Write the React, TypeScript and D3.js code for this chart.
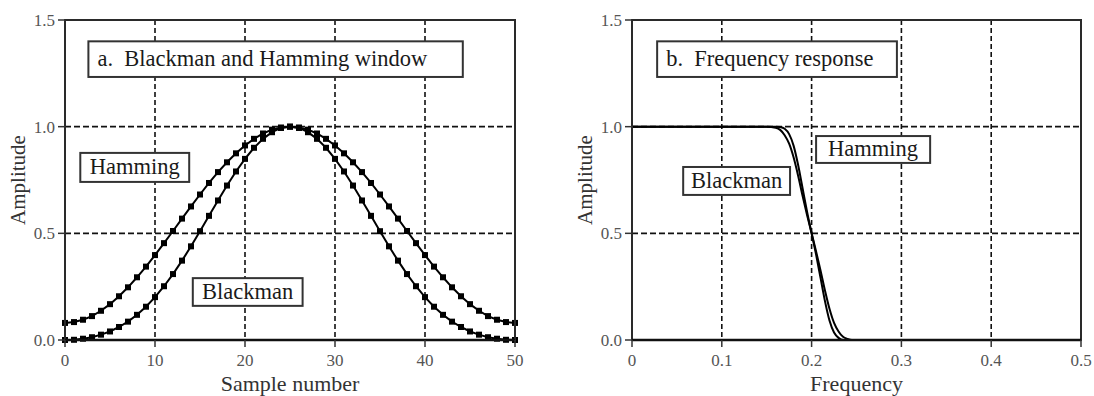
import * as d3 from "d3";

// Window values (samples 0..50)
const samples = d3.range(0, 51);
const hammingHalf = [
  0.08, 0.084, 0.095, 0.112, 0.137, 0.168, 0.205, 0.247, 0.294, 0.344, 0.398,
  0.454, 0.511, 0.569, 0.626, 0.682, 0.736, 0.787, 0.833, 0.875, 0.912, 0.943,
  0.968, 0.986, 0.996, 1.0,
];
const blackmanHalf = [
  0.0, 0.001, 0.006, 0.013, 0.025, 0.04, 0.061, 0.086, 0.118, 0.156, 0.201,
  0.252, 0.309, 0.372, 0.439, 0.51, 0.582, 0.654, 0.724, 0.79, 0.849, 0.901,
  0.943, 0.974, 0.994, 1.0,
];
const hammingWin = [...hammingHalf, ...hammingHalf.slice(0, 25).reverse()];
const blackmanWin = [...blackmanHalf, ...blackmanHalf.slice(0, 25).reverse()];

// Frequency response
const blackmanFreq = [0, 0.1, 0.15, 0.16, 0.165, 0.17, 0.175, 0.18, 0.185, 0.19, 0.195, 0.2, 0.205, 0.21, 0.215, 0.22, 0.225, 0.23, 0.235, 0.24, 0.245, 0.5];
const blackmanResp = [1, 1, 1, 0.995, 0.985, 0.96, 0.92, 0.855, 0.77, 0.675, 0.585, 0.5, 0.415, 0.325, 0.23, 0.145, 0.08, 0.04, 0.015, 0.005, 0, 0];
const hammingFreq = [0, 0.1, 0.16, 0.165, 0.17, 0.175, 0.18, 0.185, 0.19, 0.195, 0.2, 0.205, 0.21, 0.215, 0.22, 0.225, 0.23, 0.235, 0.5];
const hammingResp = [1, 1, 1, 0.998, 0.99, 0.965, 0.91, 0.82, 0.71, 0.6, 0.5, 0.4, 0.29, 0.18, 0.09, 0.035, 0.01, 0, 0];

const yTicks = [0, 0.5, 1.0, 1.5];
const xTicksA = [0, 10, 20, 30, 40, 50];
const xTicksB = [0, 0.1, 0.2, 0.3, 0.4, 0.5];

const FONT = "'Liberation Serif', 'Times New Roman', serif";
const INK = "#1a1a1a";

type Box = { text: string; x0: number; x1: number; y0: number; y1: number; align?: "start" | "middle" };

const boxesA: Box[] = [
  { text: "a.  Blackman and Hamming window", x0: 2.6, x1: 44.2, y0: 1.40, y1: 1.233, align: "start" },
  { text: "Hamming", x0: 1.7, x1: 13.8, y0: 0.877, y1: 0.741 },
  { text: "Blackman", x0: 14.2, x1: 26.4, y0: 0.29, y1: 0.16 },
];
const boxesB: Box[] = [
  { text: "b.  Frequency response", x0: 0.028, x1: 0.295, y0: 1.40, y1: 1.233, align: "start" },
  { text: "Blackman", x0: 0.057, x1: 0.176, y0: 0.811, y1: 0.68 },
  { text: "Hamming", x0: 0.205, x1: 0.332, y0: 0.956, y1: 0.83 },
];

const top = 20;
const bottom = 340;

function Panel(props: {
  left: number;
  right: number;
  xDomain: [number, number];
  xTicks: number[];
  xFmt: (d: number) => string;
  xLabel: string;
  yLabelX: number;
  boxes: Box[];
  children: (x: d3.ScaleLinear<number, number>, y: d3.ScaleLinear<number, number>) => React.ReactNode;
}) {
  const x = d3.scaleLinear().domain(props.xDomain).range([props.left, props.right]);
  const y = d3.scaleLinear().domain([0, 1.5]).range([bottom, top]);
  const midX = (props.left + props.right) / 2;
  return (
    <g>
      {/* grid */}
      {props.xTicks.slice(1, -1).map((t) => (
        <line key={"gx" + t} x1={x(t)} x2={x(t)} y1={top} y2={bottom} stroke="#111" strokeWidth={1.6} strokeDasharray="5,3" />
      ))}
      {yTicks.slice(1, -1).map((t) => (
        <line key={"gy" + t} x1={props.left} x2={props.right} y1={y(t)} y2={y(t)} stroke="#111" strokeWidth={1.6} strokeDasharray="6,3" />
      ))}
      {/* boxes */}
      {props.boxes.map((b) => (
        <g key={b.text}>
          <rect x={x(b.x0)} y={y(b.y0)} width={x(b.x1) - x(b.x0)} height={y(b.y1) - y(b.y0)} fill="#fff" stroke="#333" strokeWidth={2} />
          <text
            x={b.align === "start" ? x(b.x0) + 9 : (x(b.x0) + x(b.x1)) / 2}
            y={(y(b.y0) + y(b.y1)) / 2 + 7}
            textAnchor={b.align === "start" ? "start" : "middle"}
            fontFamily={FONT}
            fontSize={22.5}
            fill={INK}
            style={{ whiteSpace: "pre" }}
          >
            {b.text}
          </text>
        </g>
      ))}
      {props.children(x, y)}
      {/* frame */}
      <rect x={props.left} y={top} width={props.right - props.left} height={bottom - top} fill="none" stroke="#2a2a2a" strokeWidth={2} />
      <line x1={props.left} x2={props.right} y1={bottom} y2={bottom} stroke="#111" strokeWidth={2.5} />
      {/* y ticks */}
      {yTicks.map((t) => (
        <g key={"yt" + t}>
          <line x1={props.left - 7} x2={props.left} y1={y(t)} y2={y(t)} stroke="#333" strokeWidth={1.5} />
          <text x={props.left - 10} y={y(t) + 6} textAnchor="end" fontFamily={FONT} fontSize={17} fill="#555">
            {t.toFixed(1)}
          </text>
        </g>
      ))}
      {/* x ticks */}
      {props.xTicks.map((t) => (
        <g key={"xt" + t}>
          <line x1={x(t)} x2={x(t)} y1={bottom} y2={bottom + 7} stroke="#333" strokeWidth={1.5} />
          <text x={x(t)} y={bottom + 26} textAnchor="middle" fontFamily={FONT} fontSize={17} fill="#555">
            {props.xFmt(t)}
          </text>
        </g>
      ))}
      <text x={midX} y={bottom + 51} textAnchor="middle" fontFamily={FONT} fontSize={22} fill="#333">
        {props.xLabel}
      </text>
      <text
        transform={`translate(${props.yLabelX},${(top + bottom) / 2}) rotate(-90)`}
        textAnchor="middle"
        fontFamily={FONT}
        fontSize={21}
        fill="#333"
      >
        Amplitude
      </text>
    </g>
  );
}

export default function App() {
  return (
    <svg width={1094} height={396} style={{ position: "absolute", left: 0, top: 0, background: "#fff" }}>
      <rect width={1094} height={396} fill="#fff" />
      <Panel
        left={65}
        right={515}
        xDomain={[0, 50]}
        xTicks={xTicksA}
        xFmt={(d) => String(d)}
        xLabel="Sample number"
        yLabelX={25}
        boxes={boxesA}
      >
        {(x, y) => {
          const line = d3.line<number>().x((_, i) => x(samples[i])).y((d) => y(d));
          return (
            <g>
              {[hammingWin, blackmanWin].map((arr, k) => (
                <g key={k}>
                  <path d={line(arr) || ""} fill="none" stroke="#000" strokeWidth={2} />
                  {arr.map((v, i) => (
                    <rect key={i} x={x(samples[i]) - 3} y={y(v) - 3} width={6} height={6} fill="#000" />
                  ))}
                </g>
              ))}
            </g>
          );
        }}
      </Panel>
      <Panel
        left={632}
        right={1081}
        xDomain={[0, 0.5]}
        xTicks={xTicksB}
        xFmt={(d) => (d === 0 ? "0" : String(d))}
        xLabel="Frequency"
        yLabelX={592}
        boxes={boxesB}
      >
        {(x, y) => {
          const mk = (fx: number[]) =>
            d3.line<number>().x((_, i) => x(fx[i])).y((d) => y(d)).curve(d3.curveMonotoneX);
          return (
            <g>
              <path d={mk(blackmanFreq)(blackmanResp) || ""} fill="none" stroke="#000" strokeWidth={2} />
              <path d={mk(hammingFreq)(hammingResp) || ""} fill="none" stroke="#000" strokeWidth={2} />
            </g>
          );
        }}
      </Panel>
    </svg>
  );
}
